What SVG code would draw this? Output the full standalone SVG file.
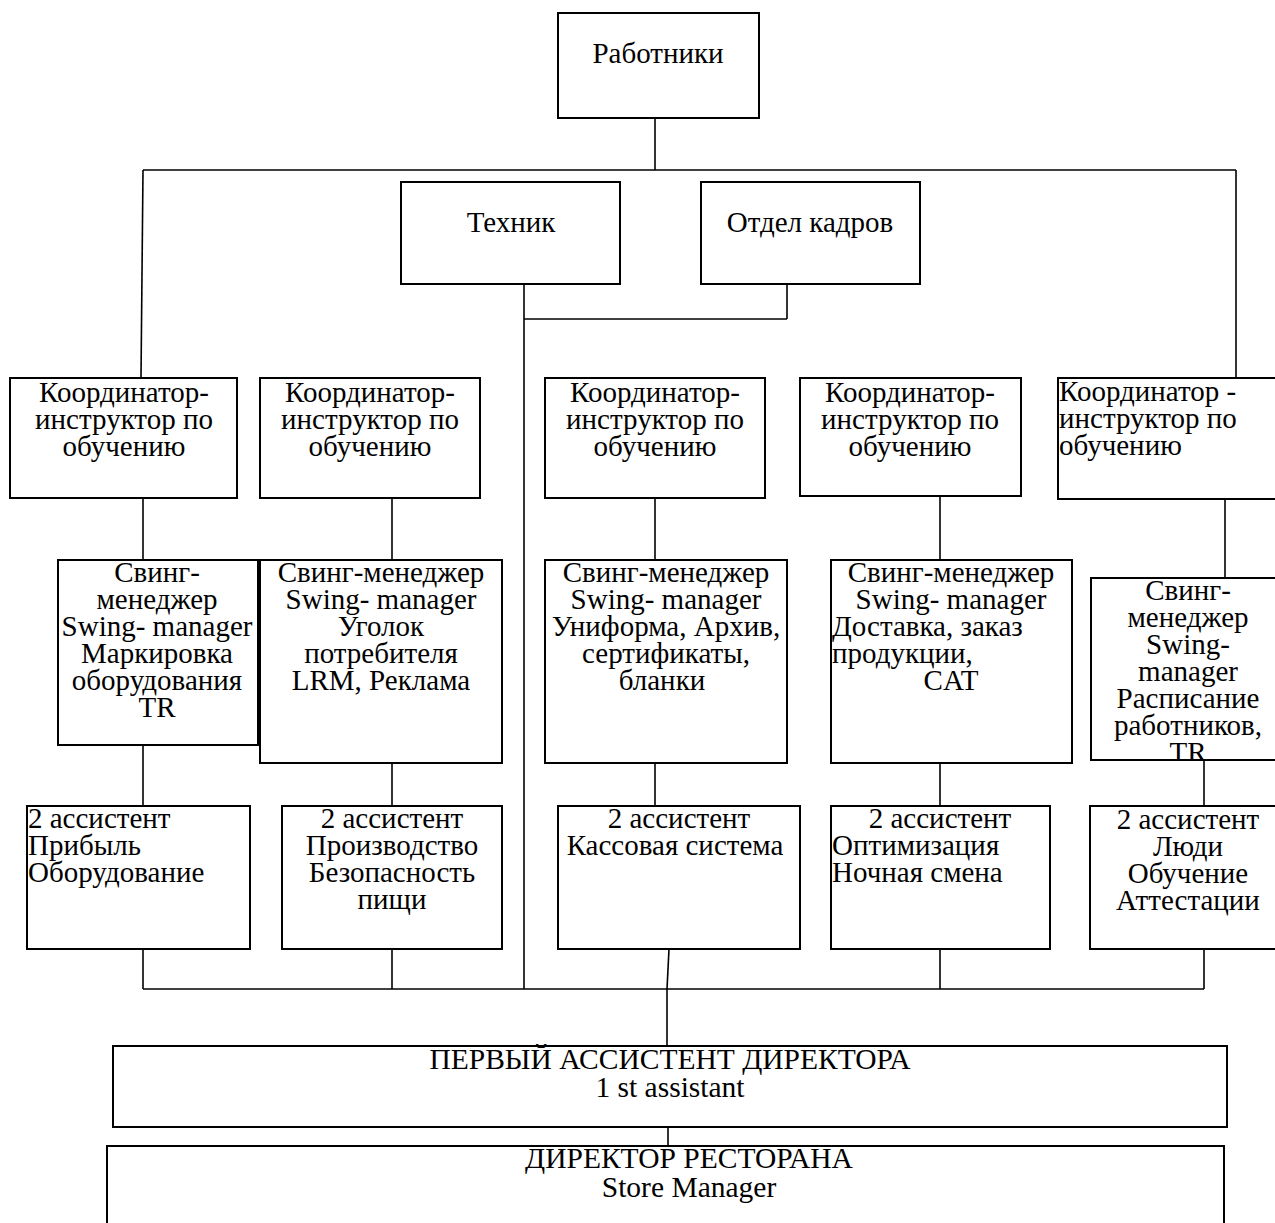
<svg xmlns="http://www.w3.org/2000/svg" width="1275" height="1223" viewBox="0 0 1275 1223">
<style>
  .box { fill: #fff; stroke: #000; stroke-width: 2; }
  .ln { fill: none; stroke: #000; stroke-width: 1.6; }
  text { font-family: "Liberation Serif", "Times New Roman", serif; font-size: 29px; fill: #000; }
  .c { text-anchor: middle; }
  .big { font-size: 29.5px; }
</style>
<defs>
  <clipPath id="clipSw5"><rect x="1091" y="578" width="200" height="182"/></clipPath>
</defs>
<g id="connectors">
  <line class="ln" x1="655" y1="118" x2="655" y2="170"/>
  <line class="ln" x1="143" y1="170" x2="1236" y2="170"/>
  <line class="ln" x1="143" y1="170" x2="141" y2="378"/>
  <line class="ln" x1="1236" y1="170" x2="1236" y2="378"/>
  <line class="ln" x1="524" y1="284" x2="524" y2="989"/>
  <line class="ln" x1="787" y1="284" x2="787" y2="319"/>
  <line class="ln" x1="524" y1="319" x2="787" y2="319"/>
  <line class="ln" x1="143" y1="498" x2="143" y2="560"/>
  <line class="ln" x1="392" y1="498" x2="392" y2="560"/>
  <line class="ln" x1="655" y1="498" x2="655" y2="560"/>
  <line class="ln" x1="940" y1="496" x2="940" y2="560"/>
  <line class="ln" x1="1225" y1="496" x2="1225" y2="578"/>
  <line class="ln" x1="143" y1="745" x2="143" y2="806"/>
  <line class="ln" x1="392" y1="763" x2="392" y2="806"/>
  <line class="ln" x1="655" y1="763" x2="655" y2="806"/>
  <line class="ln" x1="940" y1="763" x2="940" y2="806"/>
  <line class="ln" x1="1204" y1="760" x2="1204" y2="806"/>
  <line class="ln" x1="143" y1="949" x2="143" y2="989"/>
  <line class="ln" x1="392" y1="949" x2="392" y2="989"/>
  <line class="ln" x1="669" y1="949" x2="667" y2="989"/>
  <line class="ln" x1="940" y1="949" x2="940" y2="989"/>
  <line class="ln" x1="1204" y1="949" x2="1204" y2="989"/>
  <line class="ln" x1="143" y1="989" x2="1204" y2="989"/>
  <line class="ln" x1="667" y1="989" x2="667" y2="1046"/>
  <line class="ln" x1="668" y1="1127" x2="668" y2="1146"/>
</g>
<g id="workers">
  <rect class="box" x="558" y="13" width="201" height="105"/>
  <text class="c" x="658" y="63">Работники</text>
</g>
<g id="technician">
  <rect class="box" x="401" y="182" width="219" height="102"/>
  <text class="c" x="511" y="232">Техник</text>
</g>
<g id="hr">
  <rect class="box" x="701" y="182" width="219" height="102"/>
  <text class="c" x="810" y="232">Отдел кадров</text>
</g>
<g id="coord1">
  <rect class="box" x="10" y="378" width="227" height="120"/>
  <text class="c" x="124" y="402">Координатор-</text>
  <text class="c" x="124" y="429">инструктор по</text>
  <text class="c" x="124" y="456">обучению</text>
</g>
<g id="coord2">
  <rect class="box" x="260" y="378" width="220" height="120"/>
  <text class="c" x="370" y="402">Координатор-</text>
  <text class="c" x="370" y="429">инструктор по</text>
  <text class="c" x="370" y="456">обучению</text>
</g>
<g id="coord3">
  <rect class="box" x="545" y="378" width="220" height="120"/>
  <text class="c" x="655" y="402">Координатор-</text>
  <text class="c" x="655" y="429">инструктор по</text>
  <text class="c" x="655" y="456">обучению</text>
</g>
<g id="coord4">
  <rect class="box" x="800" y="378" width="221" height="118"/>
  <text class="c" x="910" y="402">Координатор-</text>
  <text class="c" x="910" y="429">инструктор по</text>
  <text class="c" x="910" y="456">обучению</text>
</g>
<g id="coord5">
  <rect class="box" x="1058" y="378" width="230" height="121"/>
  <text x="1059" y="401">Координатор -</text>
  <text x="1059" y="428">инструктор по</text>
  <text x="1059" y="455">обучению</text>
</g>
<g id="swing1">
  <rect class="box" x="58" y="560" width="200" height="185"/>
  <text class="c" x="157" y="582">Свинг-</text>
  <text class="c" x="157" y="609">менеджер</text>
  <text class="c" x="157" y="636">Swing- manager</text>
  <text class="c" x="157" y="663">Маркировка</text>
  <text class="c" x="157" y="690">оборудования</text>
  <text class="c" x="157" y="717">TR</text>
</g>
<g id="swing2">
  <rect class="box" x="260" y="560" width="242" height="203"/>
  <text class="c" x="381" y="582">Свинг-менеджер</text>
  <text class="c" x="381" y="609">Swing- manager</text>
  <text class="c" x="381" y="636">Уголок</text>
  <text class="c" x="381" y="663">потребителя</text>
  <text class="c" x="381" y="690">LRM, Реклама</text>
</g>
<g id="swing3">
  <rect class="box" x="545" y="560" width="242" height="203"/>
  <text class="c" x="666" y="582">Свинг-менеджер</text>
  <text class="c" x="666" y="609">Swing- manager</text>
  <text class="c" x="666" y="636">Униформа, Архив,</text>
  <text class="c" x="666" y="663">сертификаты,</text>
  <text class="c" x="662" y="690">бланки</text>
</g>
<g id="swing4">
  <rect class="box" x="831" y="560" width="241" height="203"/>
  <text class="c" x="951" y="582">Свинг-менеджер</text>
  <text class="c" x="951" y="609">Swing- manager</text>
  <text x="832" y="636">Доставка, заказ</text>
  <text x="832" y="663">продукции,</text>
  <text class="c" x="951" y="690">CAT</text>
</g>
<g id="swing5">
  <rect class="box" x="1091" y="578" width="200" height="182"/>
  <g clip-path="url(#clipSw5)">
    <text class="c" x="1188" y="600">Свинг-</text>
    <text class="c" x="1188" y="627">менеджер</text>
    <text class="c" x="1188" y="654">Swing-</text>
    <text class="c" x="1188" y="681">manager</text>
    <text class="c" x="1188" y="708">Расписание</text>
    <text class="c" x="1188" y="735">работников,</text>
    <text class="c" x="1188" y="762">TR</text>
  </g>
  <line class="ln" x1="1091" y1="760" x2="1275" y2="760" style="stroke-width:2"/>
</g>
<g id="asst1">
  <rect class="box" x="27" y="806" width="223" height="143"/>
  <text x="28" y="828">2 ассистент</text>
  <text x="28" y="855">Прибыль</text>
  <text x="28" y="882">Оборудование</text>
</g>
<g id="asst2">
  <rect class="box" x="282" y="806" width="220" height="143"/>
  <text class="c" x="392" y="828">2 ассистент</text>
  <text class="c" x="392" y="855">Производство</text>
  <text class="c" x="392" y="882">Безопасность</text>
  <text class="c" x="392" y="909">пищи</text>
</g>
<g id="asst3">
  <rect class="box" x="558" y="806" width="242" height="143"/>
  <text class="c" x="679" y="828">2 ассистент</text>
  <text class="c" x="675" y="855">Кассовая система</text>
</g>
<g id="asst4">
  <rect class="box" x="831" y="806" width="219" height="143"/>
  <text class="c" x="940" y="828">2 ассистент</text>
  <text x="832" y="855">Оптимизация</text>
  <text x="832" y="882">Ночная смена</text>
</g>
<g id="asst5">
  <rect class="box" x="1090" y="806" width="200" height="143"/>
  <text class="c" x="1188" y="829">2 ассистент</text>
  <text class="c" x="1188" y="856">Люди</text>
  <text class="c" x="1188" y="883">Обучение</text>
  <text class="c" x="1188" y="910">Аттестации</text>
</g>
<g id="first-assistant">
  <rect class="box" x="113" y="1046" width="1114" height="81"/>
  <text class="c big" x="670" y="1069">ПЕРВЫЙ АССИСТЕНТ ДИРЕКТОРА</text>
  <text class="c big" x="670" y="1097">1 st assistant</text>
</g>
<g id="store-manager">
  <rect class="box" x="107" y="1146" width="1117" height="100"/>
  <text class="c big" x="689" y="1168">ДИРЕКТОР РЕСТОРАНА</text>
  <text class="c big" x="689" y="1197">Store Manager</text>
</g>
</svg>
